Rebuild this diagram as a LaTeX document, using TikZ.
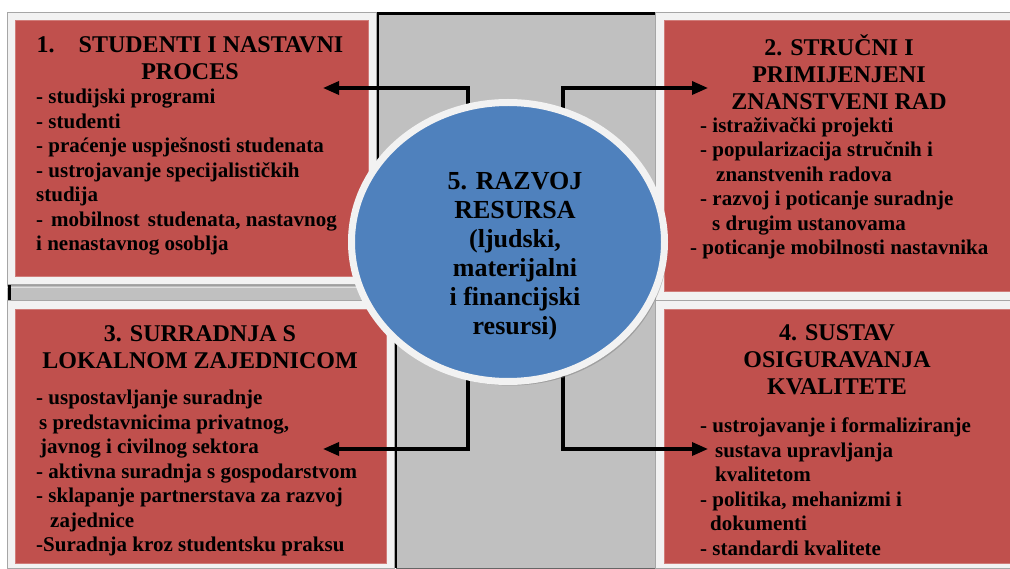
\documentclass[tikz,border=0pt]{standalone}
\usepackage{fontspec}
\setmainfont{Liberation Serif}
\usetikzlibrary{shapes.geometric,arrows.meta,shadows}
\definecolor{boxred}{HTML}{C0504D}
\definecolor{resblue}{HTML}{4F81BD}
\definecolor{bandgray}{HTML}{C0C0C0}
\definecolor{framewhite}{HTML}{F2F2F2}
\definecolor{frameline}{HTML}{A6A6A6}
\definecolor{shade}{HTML}{A39191}

\begin{document}
\begin{tikzpicture}[x=1pt,y=-1pt]
	 \tikzstyle{frame}=[rectangle,anchor=north west,inner sep=0pt,fill=framewhite,draw=frameline,line width=0.8pt]
	 \tikzstyle{area}=[rectangle,anchor=north west,inner sep=0pt,fill=boxred,draw=boxred!75!white,line width=0.6pt]
	 \tikzstyle{heading}=[align=center,inner sep=0pt,font=\bfseries\fontsize{24}{27}\selectfont]
	 \tikzstyle{items}=[align=left,anchor=north west,inner sep=0pt,font=\bfseries\fontsize{21}{24.5}\selectfont]
	 \tikzstyle{conn}=[draw,black,line width=3.4pt,-{Triangle[length=16pt,width=13pt]}]

	 \useasboundingbox[fill=white] (0,0) rectangle (1010,569);

	 \fill[bandgray] (376,12) rectangle (655,568);
	 \fill[bandgray] (7,284) rectangle (400,300);
	 \fill[shade] (7,284) rectangle (400,288);
	 \draw[shade,line width=3pt] (377.5,15) -- (377.5,284);
	 \draw[shade,line width=3pt] (395.5,300) -- (395.5,568);
	 \draw[black,line width=3pt] (376,13.5) -- (655,13.5);
	 \draw[black,line width=3pt] (9,284) -- (9,300);
	 \draw[black!60,line width=1pt] (396,568.5) -- (655,568.5);

	 \node[frame,minimum width=369pt,minimum height=272pt] (f1) at (7,12) {};
	 \node[frame,minimum width=360pt,minimum height=288pt] (f2) at (655,12) {};
	 \node[frame,minimum width=387pt,minimum height=268pt] (f3) at (7,300) {};
	 \node[frame,minimum width=360pt,minimum height=268pt] (f4) at (655,300) {};

	 \node[area,minimum width=353pt,minimum height=256pt] (r1) at (15,20) {};
	 \node[area,minimum width=350pt,minimum height=271pt] (r2) at (664,20) {};
	 \node[area,minimum width=371pt,minimum height=254pt] (r3) at (15,309) {};
	 \node[area,minimum width=350pt,minimum height=254pt] (r4) at (664,309) {};

	 \coordinate (a1) at (468,160);
	 \coordinate (a2) at (563,160);
	 \coordinate (a3) at (468,330);
	 \coordinate (a4) at (563,330);
	 \coordinate (t1) at (323,88);
	 \coordinate (t2) at (708,88);
	 \coordinate (t3) at (323,449);
	 \coordinate (t4) at (708,449);

	 \draw[conn] (a1) |- (t1);
	 \draw[conn] (a2) |- (t2);
	 \draw[conn] (a3) |- (t3);
	 \draw[conn] (a4) |- (t4);

	 \node[ellipse,minimum width=313pt,minimum height=279pt,fill=resblue,draw=framewhite,line width=7pt,
	       drop shadow={shadow xshift=3pt,shadow yshift=-4pt,fill=black!50}] (res) at (508,242) {};

	 \node[heading,font=\bfseries\fontsize{26}{29}\selectfont] (restxt) at (515,256)
	      {5. RAZVOJ\\RESURSA\\(ljudski,\\materijalni\\i financijski\\resursi)};

	 \node[heading] (h1) at (190,58) {1.\hspace*{24pt}STUDENTI I NASTAVNI\\PROCES};
	 \node[heading] (h2) at (839,72) {2. STRUČNI I\\PRIMIJENJENI\\ZNANSTVENI RAD};
	 \node[heading] (h3) at (200,347) {3. SURRADNJA S\\LOKALNOM ZAJEDNICOM};
	 \node[heading] (h4) at (837,360) {4. SUSTAV\\OSIGURAVANJA\\KVALITETE};

	 \node[items] (l1) at (36,89) {- studijski programi\\- studenti\\- praćenje uspješnosti studenata\\- ustrojavanje specijalističkih\\studija\\-\hspace*{8pt}mobilnost\hspace*{8pt}studenata, nastavnog\\i nenastavnog osoblja};
	 \node[items] (l2) at (700,117) {- istraživački projekti\\- popularizacija stručnih i\\\hspace*{16pt}znanstvenih radova\\- razvoj i poticanje suradnje\\\hspace*{12pt}s drugim ustanovama\\\hspace*{-10pt}- poticanje mobilnosti nastavnika};
	 \node[items] (l3) at (36,390) {- uspostavljanje suradnje\\\hspace*{3pt}s predstavnicima privatnog,\\\hspace*{4pt}javnog i civilnog sektora\\- aktivna suradnja s gospodarstvom\\- sklapanje partnerstava za razvoj\\\hspace*{14pt}zajednice\\-Suradnja kroz studentsku praksu};
	 \node[items] (l4) at (700,418) {- ustrojavanje i formaliziranje\\\hspace*{15pt}sustava upravljanja\\\hspace*{15pt}kvalitetom\\- politika, mehanizmi i\\\hspace*{10pt}dokumenti\\- standardi kvalitete};
\end{tikzpicture}
\end{document}
